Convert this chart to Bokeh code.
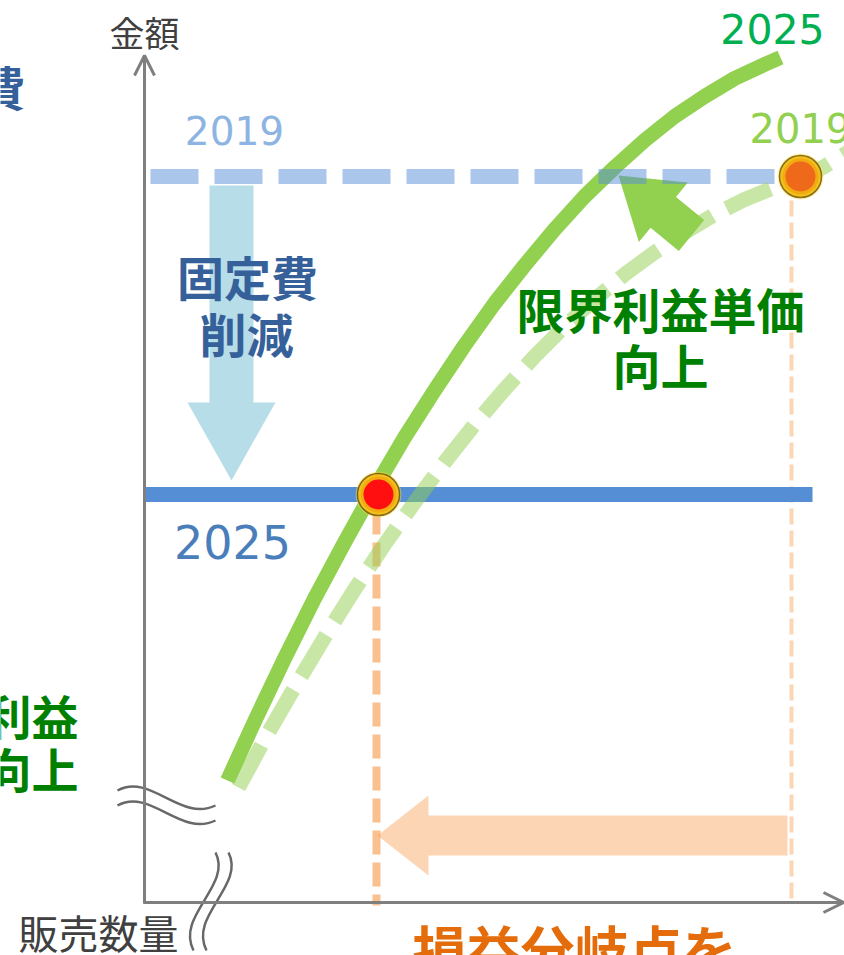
import math
from bokeh.plotting import figure
from bokeh.models import Range1d, Arrow, OpenHead
from bokeh.core.properties import value
from bokeh.embed import file_html
from bokeh.resources import INLINE

# ---------------- data (chart units: quantity on x, amount on y) ----------------
years = ["2019", "2025"]

# contribution-margin curves (sales quantity -> amount)
qty_2025 = [8.3, 11, 14, 17, 20, 23, 26, 29, 32, 35, 38, 41, 44, 47, 50, 53, 56, 59, 62, 63.6]
amt_2025 = [12.2, 18.1, 24.4, 30.4, 36.0, 41.4, 46.5, 51.2, 55.7, 59.9, 63.7, 67.3, 70.6,
            73.5, 76.2, 78.6, 80.6, 82.4, 83.8, 84.5]

qty_2019 = [9.4, 12, 15, 18, 21, 24, 27, 30, 33, 36, 39, 42, 45, 48, 51, 54, 57, 60, 63, 65.6, 68, 70.6]
amt_2019 = [11.5, 16.3, 21.5, 26.5, 31.3, 35.8, 40.0, 44.0, 47.8, 51.3, 54.6, 57.6, 60.3, 62.8,
            65.0, 67.0, 68.8, 70.3, 71.5, 72.4, 73.6, 75.2]

# fixed costs
fixed_cost_2019 = 72.6
fixed_cost_2025 = 40.8
fixed_cost_qty_start = [0.6, 0.1]     # 2019, 2025
fixed_cost_qty_end = [67.6, 66.8]

# break-even points
bep_qty_2019 = 65.6
bep_qty_2025 = 23.4
guide_qty = [23.2, 64.7]              # drop lines (2025, 2019)

# axis extents
x_axis_end = 69.9
y_axis_end = 84.7

# ---------------- figure ----------------
FONT_JP = value("Noto Sans CJK JP")
FONT_NUM = value("DejaVu Sans")

p = figure(width=844, height=955, x_range=Range1d(-14.4, 70.0), y_range=Range1d(-5.3, 90.2),
           output_backend="svg", toolbar_location=None, min_border=0,
           x_axis_type=None, y_axis_type=None, outline_line_color=None)
p.grid.visible = False
p.background_fill_color = "white"
p.border_fill_color = "white"


def arrow_poly(x0, y0, x1, y1, sw, hw, hl):
    dx, dy = x1 - x0, y1 - y0
    L = math.hypot(dx, dy)
    ux, uy = dx / L, dy / L
    nx, ny = -uy, ux
    bx, by = x1 - ux * hl, y1 - uy * hl
    xs = [x0 + nx * sw / 2, bx + nx * sw / 2, bx + nx * hw / 2, x1,
          bx - nx * hw / 2, bx - nx * sw / 2, x0 - nx * sw / 2]
    ys = [y0 + ny * sw / 2, by + ny * sw / 2, by + ny * hw / 2, y1,
          by - ny * hw / 2, by - ny * sw / 2, y0 - ny * sw / 2]
    return xs, ys


# axes
axis_col = "#7F7F7F"
p.add_layout(Arrow(end=OpenHead(size=20, line_width=3, line_color=axis_col),
                   x_start=0, y_start=-0.1, x_end=0, y_end=y_axis_end,
                   line_width=3, line_color=axis_col))
p.add_layout(Arrow(end=OpenHead(size=20, line_width=3, line_color=axis_col),
                   x_start=-0.1, y_start=0, x_end=x_axis_end, y_end=0,
                   line_width=3, line_color=axis_col))

# break-even drop lines
p.line([guide_qty[0], guide_qty[0]], [fixed_cost_2025 - 1.6, -0.3], line_color="#F79646",
       line_alpha=0.6, line_width=8, line_dash="24 8")
p.line([guide_qty[1], guide_qty[1]], [fixed_cost_2019 - 2.4, 0], line_color="#F79646",
       line_alpha=0.4, line_width=4, line_dash="16 6")

# orange arrow: break-even shifts left
ox, oy = arrow_poly(guide_qty[1] - 0.4, 6.7, bep_qty_2025 - 0.1, 6.7, 4.0, 8.0, 5.1)
p.patch(ox, oy, fill_color="#F79646", fill_alpha=0.4, line_color=None)

# light-blue arrow: fixed cost reduction
bx_, by_ = arrow_poly(8.7, fixed_cost_2019 - 0.9, 8.7, fixed_cost_2025 + 1.4, 4.4, 8.8, 7.8)
p.patch(bx_, by_, fill_color="#B7DDE8", line_color=None)

# 2025 margin curve (solid)
p.line(qty_2025, amt_2025, line_color="#92D050", line_width=15, line_cap="butt", line_join="round")

# fixed cost 2025 (solid)
p.line([fixed_cost_qty_start[1], fixed_cost_qty_end[1]], [fixed_cost_2025, fixed_cost_2025],
       line_color="#558ED5", line_width=15)

# green arrow: unit margin improvement
gx, gy = arrow_poly(54.7, 66.7, 47.4, 72.7, 4.0, 7.7, 5.8)
p.patch(gx, gy, fill_color="#92D050", line_color=None)

# fixed cost 2019 (dashed)
p.line([fixed_cost_qty_start[0], fixed_cost_qty_end[0]], [fixed_cost_2019, fixed_cost_2019],
       line_color="#558ED5", line_alpha=0.5, line_width=15, line_dash="48 16")

# 2019 margin curve (dashed)
p.line(qty_2019, amt_2019, line_color="#92D050", line_alpha=0.5, line_width=15,
       line_dash="48 16", line_cap="butt", line_join="round")

# break-even points
for qx, fy, inner in [(bep_qty_2019, fixed_cost_2019, "#EE6A1A"), (bep_qty_2025, fixed_cost_2025, "#FF0F0F")]:
    p.scatter([qx], [fy], size=46, fill_color="#FFE030", fill_alpha=0.45, line_color=None)
    p.scatter([qx], [fy], size=42, fill_color="#F3C21A", line_color="#6B5010", line_width=1.5, line_alpha=0.8)
    p.scatter([qx], [fy], size=36, fill_color="#F0A010", fill_alpha=0.7, line_color=None)
    p.scatter([qx], [fy], size=30, fill_color=inner, line_color=None)

# break marks (wavy)
wave_col = "#4D4D4D"
for dy in [0, -1.5]:
    p.bezier(x0=[-2.7], y0=[11.2 + dy], x1=[7.1], y1=[9.7 + dy], cx0=[0.6], cy0=[13.0 + dy],
             cx1=[3.6], cy1=[8.0 + dy], line_color=wave_col, line_width=2.5, line_alpha=0.85)
for dx in [0, 1.3]:
    p.bezier(x0=[7.1 + dx], y0=[5.0], x1=[4.9 + dx], y1=[-4.8], cx0=[8.8 + dx], cy0=[1.7],
             cx1=[3.1 + dx], cy1=[-1.3], line_color=wave_col, line_width=2.5, line_alpha=0.85)

# ---------------- texts ----------------
def txt(x, y, s, color, size, font=FONT_JP, bold=False, align="center"):
    p.text(x=[x], y=[y], text=[s], text_color=color, text_font=font,
           text_font_size=value(f"{size}px"), text_font_style="bold" if bold else "normal",
           text_align=align, text_baseline="middle")

txt(0, 87.1, "金額", "#404040", 35)
txt(-4.6, -2.9, "販売数量", "#404040", 40)

txt(9.0, 77.2, years[0], "#8DB4E2", 39, font=FONT_NUM)
txt(8.8, 36.1, years[1], "#4A7EBB", 46, font=FONT_NUM)
txt(62.8, 87.4, years[1], "#00B050", 41, font=FONT_NUM)
txt(60.5, 77.5, years[0], "#92D050", 40, font=FONT_NUM, align="left")

txt(10.3, 62.7, "固定費", "#35609A", 47, bold=True)
txt(10.2, 57.0, "削減", "#35609A", 47, bold=True)
txt(-11.9, 81.7, "固定費", "#35609A", 47, bold=True, align="right")

txt(51.6, 59.5, "限界利益単価", "#008000", 48, bold=True)
txt(51.6, 53.9, "向上", "#008000", 48, bold=True)
txt(-6.6, 18.8, "限界利益", "#008000", 47, bold=True, align="right")
txt(-6.6, 13.5, "向上", "#008000", 47, bold=True, align="right")

txt(43.0, -4.6, "損益分岐点を", "#E46C0A", 54, bold=True)

open("out.html", "w").write(file_html(p, INLINE))
